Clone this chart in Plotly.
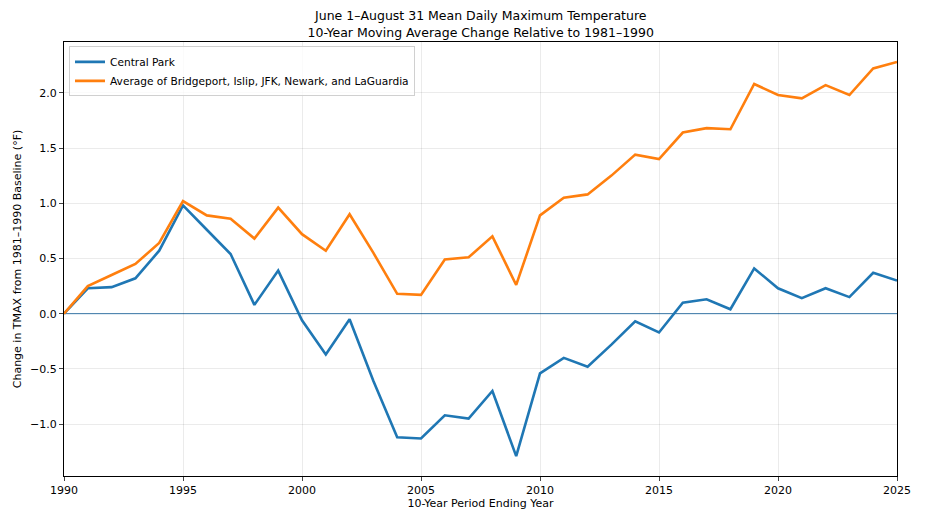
import plotly.graph_objects as go

years = list(range(1990, 2026))

# 10-yr moving average change vs 1981-1990 baseline (deg F)
central_park = [0.00, 0.23, 0.24, 0.32, 0.57, 0.98, 0.76, 0.54, 0.08, 0.39,
                -0.06, -0.37, -0.05, -0.61, -1.12, -1.13, -0.92, -0.95, -0.70, -1.29,
                -0.54, -0.40, -0.48, -0.28, -0.07, -0.17, 0.10, 0.13, 0.04, 0.41,
                0.23, 0.14, 0.23, 0.15, 0.37, 0.30]
regional_avg = [0.00, 0.25, 0.35, 0.45, 0.64, 1.02, 0.89, 0.86, 0.68, 0.96,
                0.72, 0.57, 0.90, 0.55, 0.18, 0.17, 0.49, 0.51, 0.70, 0.26,
                0.89, 1.05, 1.08, 1.25, 1.44, 1.40, 1.64, 1.68, 1.67, 2.08,
                1.98, 1.95, 2.07, 1.98, 2.22, 2.28]

xticks = [1990, 1995, 2000, 2005, 2010, 2015, 2020, 2025]
yticks = [-1.0, -0.5, 0.0, 0.5, 1.0, 1.5, 2.0]
ytick_text = [f"{v:.1f}".replace("-", "\u2212") for v in yticks]

font = "DejaVu Sans"

fig = go.Figure()
fig.add_trace(go.Scatter(x=years, y=central_park, mode="lines", name="Central Park",
                         line=dict(color="#1f77b4", width=2.6)))
fig.add_trace(go.Scatter(x=years, y=regional_avg, mode="lines",
                         name="Average of Bridgeport, Islip, JFK, Newark, and LaGuardia",
                         line=dict(color="#ff7f0e", width=2.6)))

# zero baseline
fig.add_hline(y=0, line=dict(color="#3b7fb4", width=1), layer="below")

# page body adds an 8px offset, so the figure is 8px smaller and margins shifted
fig.update_layout(
    width=918, height=513,
    margin=dict(l=56, r=29, t=34, b=45),
    paper_bgcolor="white", plot_bgcolor="white",
    font=dict(family=font, size=11, color="black"),
    title=dict(text="June 1\u2013August 31 Mean Daily Maximum Temperature<br>10-Year Moving Average Change Relative to 1981\u20131990",
               x=0.515, xanchor="center", y=0.976, yanchor="top",
               font=dict(family=font, size=12.5)),
    legend=dict(x=0.006, y=0.99, xanchor="left", yanchor="top",
                bgcolor="rgba(255,255,255,0.8)", bordercolor="#d0d0d0", borderwidth=1,
                font=dict(family=font, size=10.6), tracegroupgap=0, itemwidth=30),
    showlegend=True,
)
fig.update_xaxes(range=[1990, 2025], tickvals=xticks, ticks="outside", ticklen=4,
                 showline=True, linecolor="black", linewidth=1, mirror=True,
                 showgrid=True, gridcolor="rgba(0,0,0,0.08)", zeroline=False,
                 automargin=False,
                 title=dict(text="10-Year Period Ending Year", standoff=2,
                            font=dict(family=font, size=11)),
                 tickfont=dict(family=font, size=11))
fig.update_yaxes(range=[-1.47, 2.46], tickvals=yticks, ticktext=ytick_text,
                 ticks="outside", ticklen=4,
                 showline=True, linecolor="black", linewidth=1, mirror=True,
                 showgrid=True, gridcolor="rgba(0,0,0,0.08)", zeroline=False,
                 automargin=False,
                 title=dict(text="Change in TMAX from 1981\u20131990 Baseline (\u00b0F)", standoff=6,
                            font=dict(family=font, size=11)),
                 tickfont=dict(family=font, size=11))

fig.write_html("out.html")
